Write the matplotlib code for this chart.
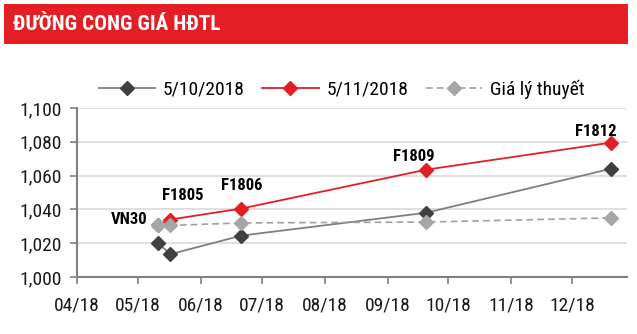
import matplotlib
matplotlib.use('Agg')
import matplotlib.pyplot as plt
import matplotlib.dates as mdates
from matplotlib.patches import Rectangle
import pandas as pd

plt.rcParams['font.family'] = ['Roboto Condensed', 'DejaVu Sans']

# ngày: VN30, F1805, F1806, F1809, F1812
dates = pd.to_datetime(['2018-05-11', '2018-05-17', '2018-06-21', '2018-09-20', '2018-12-20'])
contracts = ['VN30', 'F1805', 'F1806', 'F1809', 'F1812']
s_1005 = [1020.0, 1013.5, 1024.5, 1038.0, 1064.0]
s_1105 = [1030.5, 1034.0, 1040.5, 1063.5, 1079.5]
theory = [1030.5, 1030.5, 1032.0, 1032.5, 1035.0]

# vị trí nhãn (px) so với điểm đỏ
lab_dx = [0, 12, 0, -12, -15]
lab_dy = [0, 24, 23, 13, 11]

red = '#E31E24'

fig = plt.figure(figsize=(6.37, 3.34), dpi=100)

# thanh tiêu đề
fig.patches.append(Rectangle((4/637, 1 - 44/334), 624/637, 40/334, transform=fig.transFigure,
                             facecolor=red, edgecolor='none'))
fig.text(13/637, 1 - 25/334, 'ĐƯỜNG CONG GIÁ HĐTL', color='white', fontsize=15.3,
         fontweight='bold', va='center', ha='left')

ax = fig.add_axes([77/637, 1 - 277/334, 550/637, 169/334])

ax.plot(dates, s_1005, color='#7F7F7F', lw=1.3, marker='D', ms=7, mfc='#404040', mec='#404040',
        label='5/10/2018', zorder=3)
ax.plot(dates, s_1105, color=red, lw=1.3, marker='D', ms=7, mfc=red, mec=red,
        label='5/11/2018', zorder=3)
ax.plot(dates, theory, color='#A0A0A0', lw=1.2, ls=(0, (4, 2.5)), marker='D', ms=7,
        mfc='#A6A6A6', mec='#A6A6A6', label='Giá lý thuyết', zorder=4)

# nhãn hợp đồng
ax.annotate(contracts[0], (dates[0], theory[0]), xytext=(-8, 4), textcoords='offset points',
            ha='right', va='center', fontsize=12, fontweight='bold')
for i in range(1, len(contracts)):
    ax.annotate(contracts[i], (dates[i], s_1105[i]),
                xytext=(lab_dx[i] * 0.72, lab_dy[i] * 0.72), textcoords='offset points',
                ha='center', va='center', fontsize=12, fontweight='bold')

ax.set_xlim(pd.Timestamp('2018-04-01'), pd.Timestamp('2018-12-28'))
ax.set_ylim(1000, 1100)
ax.set_yticks(range(1000, 1101, 20))
ax.yaxis.set_major_formatter(matplotlib.ticker.FuncFormatter(lambda v, p: f'{v:,.0f}'))
ax.xaxis.set_major_locator(mdates.MonthLocator())
ax.xaxis.set_major_formatter(mdates.DateFormatter('%m/%y'))

ax.grid(axis='y', color='#D9D9D9', lw=1.2)
ax.set_axisbelow(True)
for s in ['top', 'right']:
    ax.spines[s].set_visible(False)
ax.spines['left'].set_color('#808080')
ax.spines['left'].set_linewidth(1.5)
ax.spines['bottom'].set_color('#808080')
ax.spines['bottom'].set_linewidth(1.5)
ax.tick_params(axis='both', colors='#808080', width=1.2, length=5, labelsize=14,
               labelcolor='#1A1A1A')
ax.tick_params(axis='x', pad=9)
ax.tick_params(axis='y', pad=6)

ax.legend(loc='lower center', bbox_to_anchor=(0.481, 1.01), ncol=3, frameon=False,
          fontsize=14, handlelength=2.9, columnspacing=0.9, handletextpad=0.4,
          borderaxespad=0)

fig.savefig('out.png')
